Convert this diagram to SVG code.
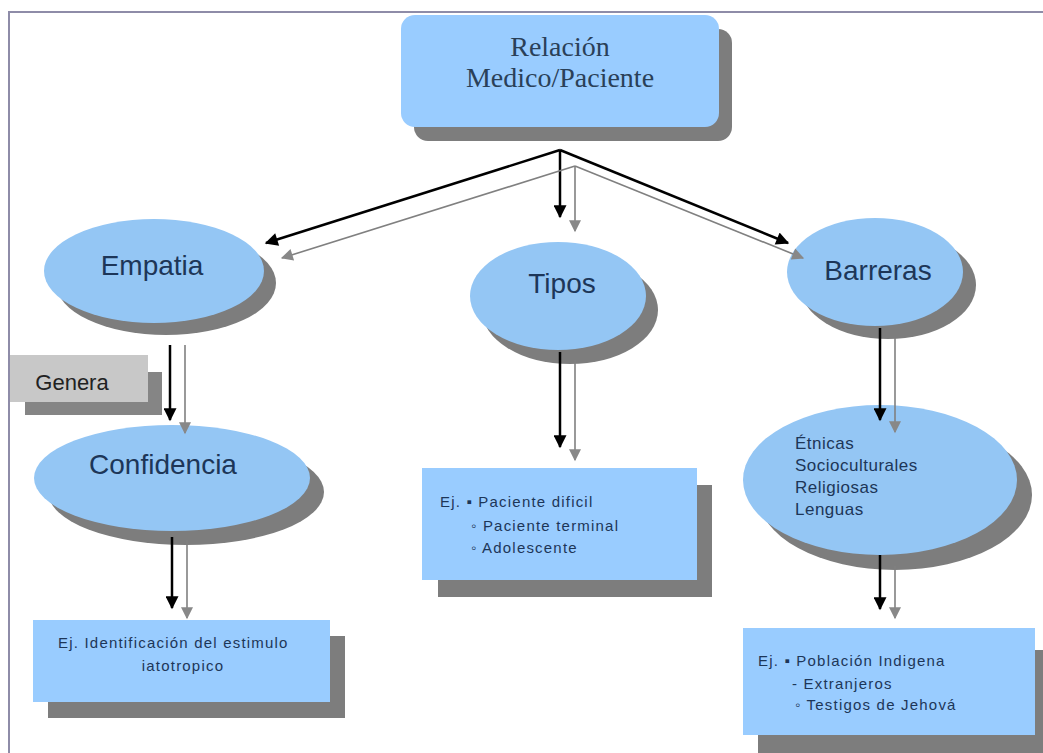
<svg xmlns="http://www.w3.org/2000/svg" width="1043" height="753" viewBox="0 0 1043 753">
<defs>
<style>
.box{fill:#99ccff}
.ell{fill:#94c6f4}
.sh{fill:#7d7d7d}
.t{font-family:"Liberation Sans",Arial,sans-serif;fill:#1d3658}
.ts{font-family:"Liberation Serif","Times New Roman",serif;fill:#2a4058}
.big{font-size:28px}
.sm{font-size:15px;letter-spacing:1.2px}
.mid{font-size:17px;letter-spacing:0.5px}
.blk{stroke:#000;stroke-width:2.5;fill:none}
.gry{stroke:#808080;stroke-width:1.6;fill:none}
</style>
<marker id="ab" viewBox="0 0 10 10" refX="9" refY="5" markerWidth="15" markerHeight="13" markerUnits="userSpaceOnUse" orient="auto"><path d="M0,0 L10,5 L0,10 z" fill="#000"/></marker>
<marker id="ag" viewBox="0 0 10 10" refX="9" refY="5" markerWidth="13" markerHeight="12" markerUnits="userSpaceOnUse" orient="auto"><path d="M0,0 L10,5 L0,10 z" fill="#888"/></marker>
</defs>
<rect width="1043" height="753" fill="#fff"/>
<path d="M9,753 V12 H1043" fill="none" stroke="#8e8ca8" stroke-width="2"/>

<g id="relacion">
<rect class="sh" x="414" y="29" width="318" height="112" rx="14"/>
<rect class="box" x="401" y="15" width="318" height="112" rx="14"/>
<text class="ts" x="560" y="56" font-size="28" text-anchor="middle">Relación</text>
<text class="ts" x="560" y="87" font-size="28" text-anchor="middle">Medico/Paciente</text>
</g>

<g id="empatia">
<ellipse class="sh" cx="166" cy="283" rx="110" ry="52"/>
<ellipse class="ell" cx="154" cy="271" rx="110" ry="52"/>
<text class="t big" x="152" y="275" text-anchor="middle">Empatia</text>
</g>

<g id="tipos">
<ellipse class="sh" cx="570" cy="310" rx="88" ry="54"/>
<ellipse class="ell" cx="558" cy="296" rx="88" ry="54"/>
<text class="t big" x="562" y="293" text-anchor="middle">Tipos</text>
</g>

<g id="barreras">
<ellipse class="sh" cx="888" cy="285" rx="88" ry="54"/>
<ellipse class="ell" cx="875" cy="272" rx="88" ry="54"/>
<text class="t big" x="878" y="280" text-anchor="middle">Barreras</text>
</g>

<g id="genera">
<rect x="25" y="372" width="137" height="43" fill="#858585"/>
<rect x="10" y="355" width="138" height="47" fill="#c8c8c8"/>
<text class="t" x="72" y="390" font-size="22" style="fill:#222" text-anchor="middle">Genera</text>
</g>

<g id="confidencia">
<ellipse class="sh" cx="186" cy="492" rx="138" ry="53"/>
<ellipse class="ell" cx="172" cy="478" rx="138" ry="53"/>
<text class="t big" x="163" y="474" text-anchor="middle">Confidencia</text>
</g>

<g id="ej1">
<rect class="sh" x="48" y="636" width="297" height="82"/>
<rect class="box" x="33" y="620" width="297" height="82"/>
<text class="t sm" x="58" y="648">Ej.  Identificación del estimulo</text>
<text class="t sm" x="183" y="671" text-anchor="middle">iatotropico</text>
</g>

<g id="ej2">
<rect class="sh" x="438" y="485" width="274" height="112"/>
<rect class="box" x="422" y="468" width="275" height="112"/>
<text class="t sm" x="440" y="507">Ej.  ▪ Paciente dificil</text>
<text class="t sm" x="471" y="531">◦ Paciente terminal</text>
<text class="t sm" x="471" y="553">◦ Adolescente</text>
</g>

<g id="barreras-tipos">
<ellipse class="sh" cx="895" cy="495" rx="137" ry="75"/>
<ellipse class="ell" cx="880" cy="480" rx="137" ry="75"/>
<text class="t mid" x="795" y="449">Étnicas</text>
<text class="t mid" x="795" y="471">Socioculturales</text>
<text class="t mid" x="795" y="493">Religiosas</text>
<text class="t mid" x="795" y="515">Lenguas</text>
</g>

<g id="ej3">
<rect class="sh" x="758" y="650" width="285" height="103"/>
<rect class="box" x="743" y="628" width="292" height="107"/>
<text class="t sm" x="758" y="666">Ej.  ▪ Población Indigena</text>
<text class="t sm" x="792" y="689">- Extranjeros</text>
<text class="t sm" x="795" y="710">◦ Testigos de Jehová</text>
</g>

<g id="connectors">
<line class="blk" x1="560" y1="150" x2="266" y2="243" marker-end="url(#ab)"/>
<line class="blk" x1="560" y1="150" x2="560" y2="217" marker-end="url(#ab)"/>
<line class="blk" x1="560" y1="150" x2="788" y2="243" marker-end="url(#ab)"/>
<line class="gry" x1="575" y1="166" x2="282" y2="258" marker-end="url(#ag)"/>
<line class="gry" x1="575" y1="166" x2="575" y2="231" marker-end="url(#ag)"/>
<line class="gry" x1="575" y1="166" x2="803" y2="258" marker-end="url(#ag)"/>
<line class="blk" x1="170" y1="345" x2="170" y2="420" marker-end="url(#ab)"/>
<line class="gry" x1="185" y1="345" x2="185" y2="433" marker-end="url(#ag)"/>
<line class="blk" x1="172" y1="537" x2="172" y2="608" marker-end="url(#ab)"/>
<line class="gry" x1="187" y1="540" x2="187" y2="618" marker-end="url(#ag)"/>
<line class="blk" x1="560" y1="352" x2="560" y2="447" marker-end="url(#ab)"/>
<line class="gry" x1="575" y1="360" x2="575" y2="460" marker-end="url(#ag)"/>
<line class="blk" x1="880" y1="328" x2="880" y2="420" marker-end="url(#ab)"/>
<line class="gry" x1="895" y1="338" x2="895" y2="432" marker-end="url(#ag)"/>
<line class="blk" x1="880" y1="555" x2="880" y2="609" marker-end="url(#ab)"/>
<line class="gry" x1="895" y1="566" x2="895" y2="618" marker-end="url(#ag)"/>
</g>
</svg>
